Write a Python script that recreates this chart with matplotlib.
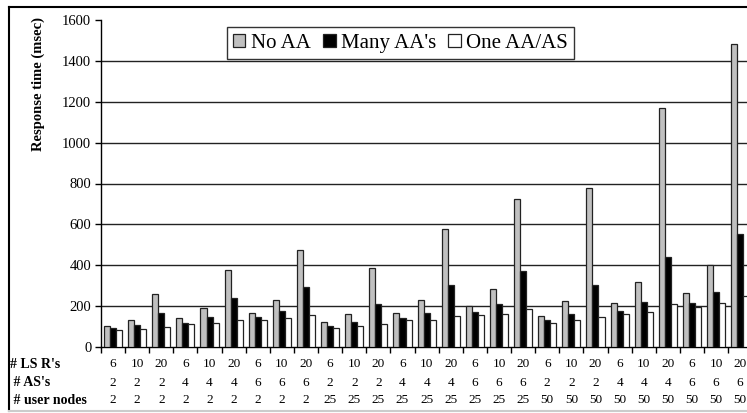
import matplotlib
matplotlib.use("Agg")
import matplotlib.pyplot as plt
import matplotlib.transforms as mtransforms
from matplotlib.lines import Line2D
from matplotlib.patches import Patch
import numpy as np

plt.rcParams['font.family'] = ['Liberation Serif', 'DejaVu Serif']

series_names = ["No AA", "Many AA's", "One AA/AS"]
no_aa = [103, 132, 258, 139, 190, 376, 167, 229, 472,
         123, 160, 386, 167, 230, 575, 201, 284, 725,
         150, 222, 778, 216, 319, 1168, 265, 400, 1482]
many_aa = [90, 106, 167, 118, 147, 237, 147, 175, 294,
           103, 123, 208, 141, 167, 302, 169, 209, 371,
           131, 159, 302, 175, 218, 441, 216, 270, 552]
one_aa = [82, 88, 95, 110, 118, 129, 132, 139, 157,
          93, 101, 110, 129, 131, 150, 157, 162, 185,
          118, 129, 146, 160, 172, 208, 196, 213, 248]

lsrs = ["6", "10", "20", "6", "10", "20", "6", "10", "20",
        "6", "10", "20", "6", "10", "20", "6", "10", "20",
        "6", "10", "20", "6", "10", "20", "6", "10", "20"]
ases = ["2", "2", "2", "4", "4", "4", "6", "6", "6",
        "2", "2", "2", "4", "4", "4", "6", "6", "6",
        "2", "2", "2", "4", "4", "4", "6", "6", "6"]
users = ["2", "2", "2", "2", "2", "2", "2", "2", "2",
         "25", "25", "25", "25", "25", "25", "25", "25", "25",
         "50", "50", "50", "50", "50", "50", "50", "50", "50"]
row_headers = ["# LS R's", " # AS's", " # user nodes"]
yticks = [0, 200, 400, 600, 800, 1000, 1200, 1400, 1600]

colors = ["#c0c0c0", "#000000", "#ffffff"]

W, H = 747, 413
fig = plt.figure(figsize=(W / 100, H / 100), dpi=100)
ax = fig.add_axes([101 / W, 66.3 / H, 27 * 24.12 / W, 326.4 / H])

n = len(no_aa)
x = np.arange(n)
bw = 0.25
for k, (vals, c) in enumerate(zip([no_aa, many_aa, one_aa], colors)):
    ax.bar(x + (k - 1) * bw, vals, width=bw, color=c, edgecolor="#222222",
           linewidth=0.9, zorder=3)

for t in yticks[1:-1]:
    ax.axhline(t, color="#222222", linewidth=1.0, zorder=1)

ax.set_xlim(-0.5, n - 0.5)
ax.set_ylim(0, 1600)
ax.set_yticks(yticks)
ax.set_yticklabels([str(t) for t in yticks], fontsize=10.5)
ax.set_xticks(np.arange(n + 1) - 0.5)
ax.set_xticklabels([])
ax.tick_params(axis="y", direction="out", length=4, width=1, pad=3, colors="black")
ax.tick_params(axis="x", direction="out", length=4, width=1)
for s in ["top", "right"]:
    ax.spines[s].set_visible(False)
ax.spines["left"].set_linewidth(1.0)
ax.spines["bottom"].set_linewidth(1.0)

fig.text(38 / W, 1 - 84 / H, "Response time (msec)", rotation=90,
         ha="center", va="center", fontsize=10.5, fontweight="bold")

trans = mtransforms.blended_transform_factory(ax.transData, fig.transFigure)
row_y = [1 - 364 / H, 1 - 382.7 / H, 1 - 400 / H]
for rows, yy in zip([lsrs, ases, users], row_y):
    for i, lab in enumerate(rows):
        ax.text(i, yy, lab, transform=trans, ha="center", va="center",
                fontsize=9.5, clip_on=False)
for hdr, yy in zip(row_headers, row_y):
    fig.text(10 / W, yy, hdr, ha="left", va="center", fontsize=10,
             fontweight="bold")

handles = [Patch(facecolor=c, edgecolor="#222222", linewidth=0.9) for c in colors]
leg = fig.legend(handles, series_names, loc="upper left",
                 bbox_to_anchor=(226.7 / W, 1 - 27.3 / H), ncol=3,
                 fontsize=15, frameon=True, fancybox=False,
                 handlelength=0.6, handleheight=0.6, handletextpad=0.25,
                 columnspacing=0.6, borderpad=0.3, borderaxespad=0)
leg.get_frame().set_edgecolor("black")
leg.get_frame().set_linewidth(1.0)

# outer chart frame
fig.add_artist(Line2D([9 / W, 9 / W], [1 - 7 / H, 1 - 411 / H],
                      transform=fig.transFigure, color="black", linewidth=1.5))
fig.add_artist(Line2D([9 / W, 1.0], [1 - 7 / H, 1 - 7 / H],
                      transform=fig.transFigure, color="black", linewidth=1.5))
fig.add_artist(Line2D([9 / W, 1.0], [1 - 411 / H, 1 - 411 / H],
                      transform=fig.transFigure, color="#cccccc", linewidth=1.5))

fig.savefig("out.png", dpi=100)
